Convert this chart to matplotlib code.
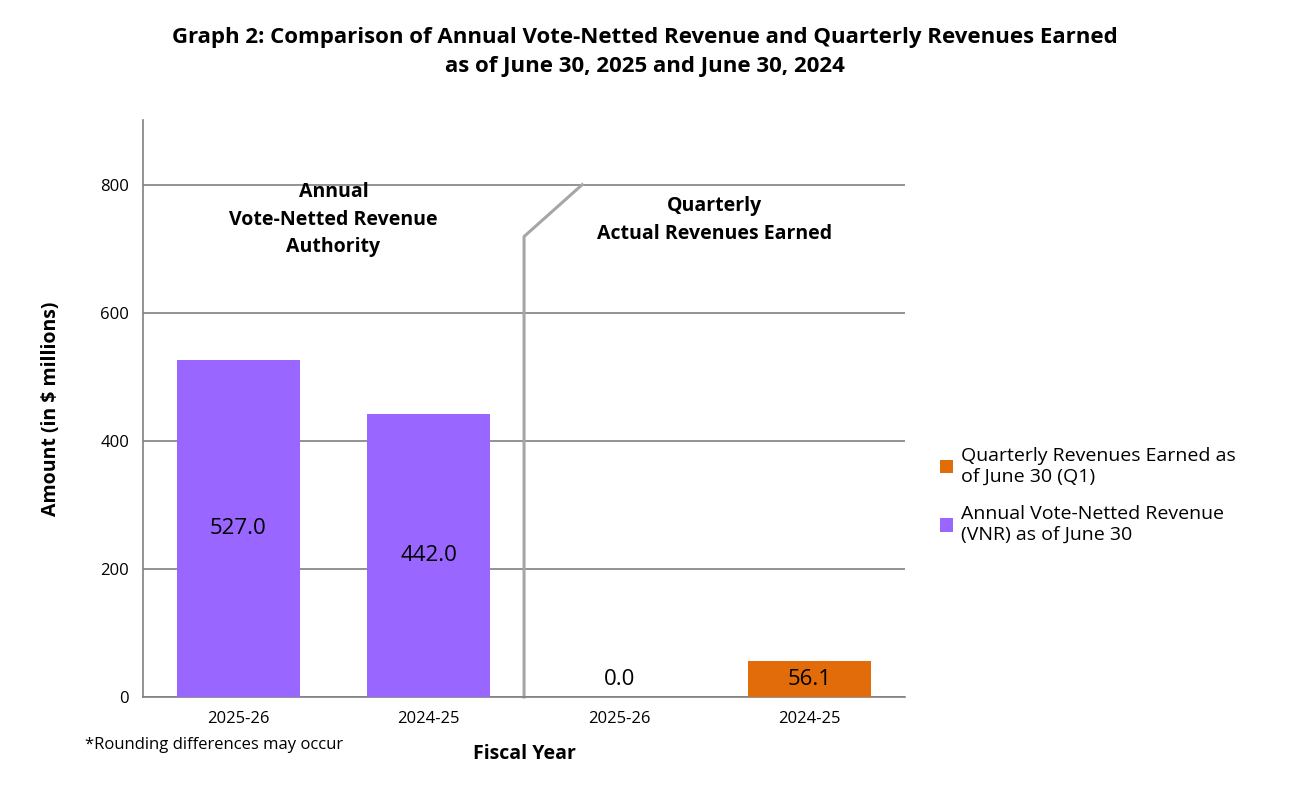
import matplotlib.pyplot as plt

years = ["2025-26", "2024-25", "2025-26", "2024-25"]
vnr = [527.0, 442.0]
quarterly = [0.0, 56.1]

plt.rcParams['font.family'] = ['Open Sans', 'DejaVu Sans']
fig = plt.figure(figsize=(12.9, 7.99), dpi=100)
ax = fig.add_axes([0.1109, 0.1277, 0.5907, 0.7221])

purple = "#9966FF"
orange = "#E36C0A"
b1 = ax.bar([0, 1], vnr, width=0.645, color=purple, label="Annual Vote-Netted Revenue\n(VNR) as of June 30", zorder=3)
b2 = ax.bar([2, 3], quarterly, width=0.645, color=orange, label="Quarterly Revenues Earned as\nof June 30 (Q1)", zorder=3)

for x, v in zip([0, 1], vnr):
    ax.text(x, v / 2, f"{v:.1f}", ha="center", va="center", fontsize=16, zorder=4)
for x, v in zip([2, 3], quarterly):
    ax.text(x, v / 2 if v > 30 else 27, f"{v:.1f}", ha="center", va="center", fontsize=16, zorder=4)

ax.set_xlim(-0.5, 3.5)
ax.set_ylim(0, 901)
ax.set_yticks([0, 200, 400, 600, 800])
ax.set_xticks(range(4))
ax.set_xticklabels(years)
ax.tick_params(length=0, labelsize=12, pad=10)
ax.grid(axis="y", color="#808080", linewidth=1.2, zorder=0)
for s in ["top", "right"]:
    ax.spines[s].set_visible(False)
for s in ["left", "bottom"]:
    ax.spines[s].set_color("#808080")
    ax.spines[s].set_linewidth(1.2)

# separator
ax.plot([1.5, 1.5, 1.805], [0, 719, 800], color="#A6A6A6", linewidth=2.2, zorder=2, clip_on=False)

ax.text(0.5, 745, "Annual\nVote-Netted Revenue\nAuthority", ha="center", va="center",
        fontsize=14, fontweight="bold", linespacing=1.5)
ax.text(2.5, 745, "Quarterly\nActual Revenues Earned", ha="center", va="center",
        fontsize=14, fontweight="bold", linespacing=1.5)

ax.set_ylabel("Amount (in $ millions)", fontsize=14, fontweight="bold", labelpad=28)
ax.set_xlabel("Fiscal Year", fontsize=14, fontweight="bold", labelpad=12)

fig.text(0.5, 0.935, "Graph 2: Comparison of Annual Vote-Netted Revenue and Quarterly Revenues Earned\nas of June 30, 2025 and June 30, 2024",
         ha="center", va="center", fontsize=16, fontweight="bold", linespacing=1.5)
fig.text(0.066, 0.068, "*Rounding differences may occur", fontsize=12, va="center")

h, l = ax.get_legend_handles_labels()
fig.legend(h[::-1], l[::-1], loc="center left", bbox_to_anchor=(0.715, 0.38), frameon=False,
           fontsize=14, handlelength=0.7, handleheight=0.7, handletextpad=0.4, labelspacing=1.0)

fig.savefig("out.png", dpi=100)
